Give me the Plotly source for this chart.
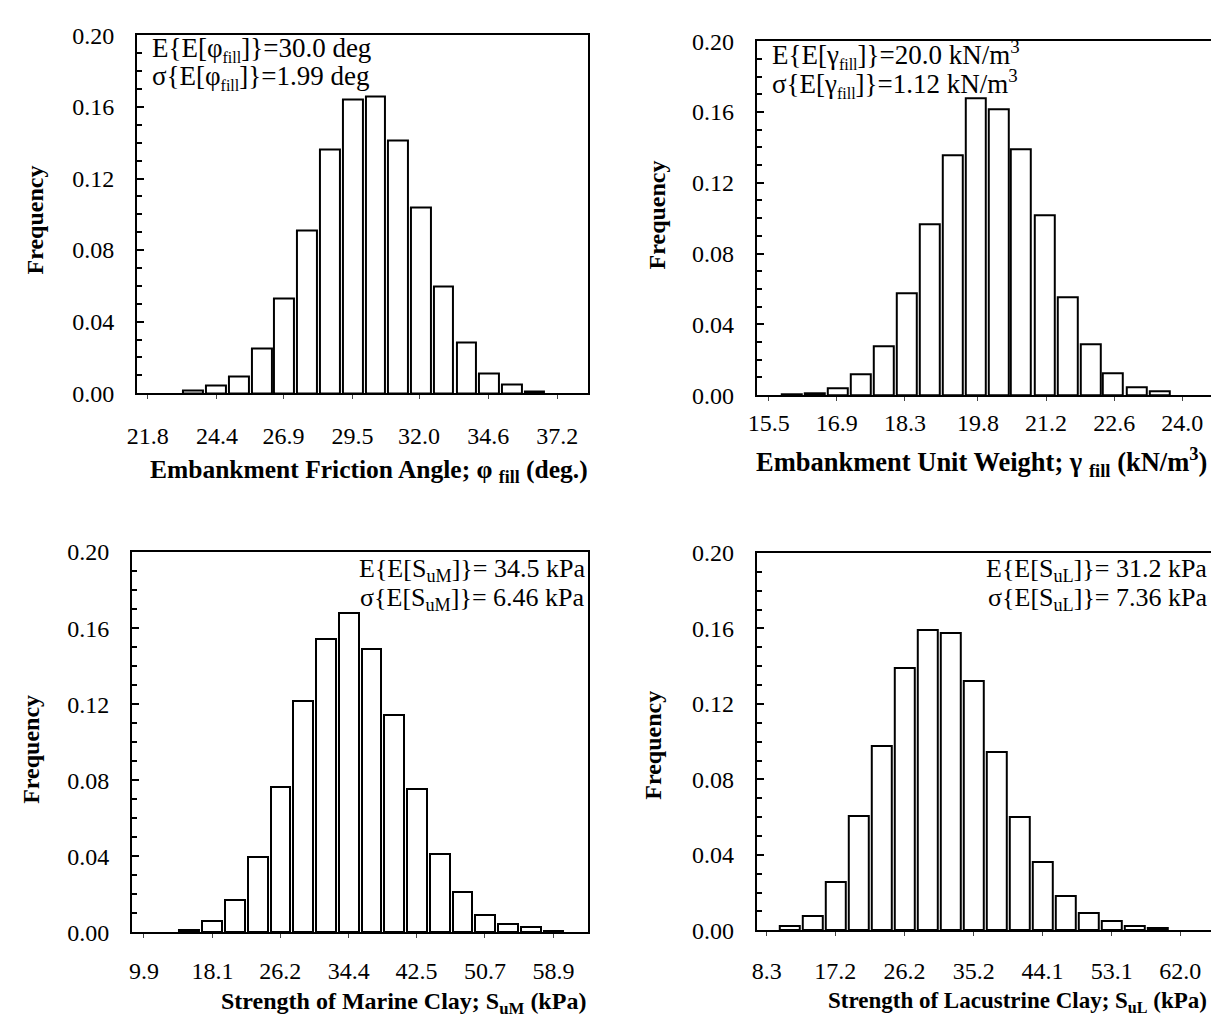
import plotly.graph_objects as go

W, H = 1211, 1032
FONT = "Liberation Serif"

# ---------------- data ----------------
# Panel 1: embankment friction angle (deg)
phi_bin_centers = [23.51, 24.37, 25.22, 26.08, 26.93, 27.79, 28.64, 29.50,
                   30.36, 31.21, 32.07, 32.92, 33.78, 34.63, 35.49, 36.34]
phi_freq = [0.0013, 0.0042, 0.0096, 0.0251, 0.0527, 0.0909, 0.1360, 0.1640,
            0.1660, 0.1415, 0.1040, 0.0595, 0.0285, 0.0113, 0.0051, 0.0009]
phi_bin_width = 0.856
phi_tick_labels = ["21.8", "24.4", "26.9", "29.5", "32.0", "34.6", "37.2"]

# Panel 2: embankment unit weight (kN/m3)
gam_bin_centers = [15.97, 16.44, 16.92, 17.39, 17.86, 18.33, 18.81, 19.28, 19.75,
                   20.22, 20.69, 21.17, 21.64, 22.11, 22.58, 23.06, 23.53]
gam_freq = [0.0003, 0.0013, 0.0040, 0.0118, 0.0277, 0.0573, 0.0965, 0.1355, 0.1680,
            0.1616, 0.1390, 0.1017, 0.0555, 0.0287, 0.0124, 0.0046, 0.0022]
gam_bin_width = 0.472
gam_tick_labels = ["15.5", "16.9", "18.3", "19.8", "21.2", "22.6", "24.0"]

# Panel 3: strength of marine clay (kPa)
sum_bin_centers = [15.34, 18.07, 20.79, 23.51, 26.23, 28.96, 31.68, 34.40, 37.12,
                   39.84, 42.57, 45.29, 48.01, 50.73, 53.46, 56.18, 58.90]
sum_freq = [0.0010, 0.0057, 0.0168, 0.0396, 0.0764, 0.1216, 0.1541, 0.1678, 0.1490,
            0.1144, 0.0753, 0.0411, 0.0211, 0.0088, 0.0042, 0.0027, 0.0008]
sum_bin_width = 2.722
sum_tick_labels = ["9.9", "18.1", "26.2", "34.4", "42.5", "50.7", "58.9"]

# Panel 4: strength of lacustrine clay (kPa)
sul_bin_centers = [11.28, 14.27, 17.25, 20.23, 23.22, 26.20, 29.18, 32.17, 35.15,
                   38.13, 41.12, 44.10, 47.08, 50.07, 53.05, 56.03, 59.02]
sul_freq = [0.0020, 0.0076, 0.0257, 0.0604, 0.0975, 0.1392, 0.1591, 0.1574, 0.1320,
            0.0944, 0.0599, 0.0362, 0.0181, 0.0092, 0.0050, 0.0022, 0.0012]
sul_bin_width = 2.983
sul_tick_labels = ["8.3", "17.2", "26.2", "35.2", "44.1", "53.1", "62.0"]

freq_ticks = [0.00, 0.04, 0.08, 0.12, 0.16, 0.20]

SUBF = "<sub><span style='font-size:16px'>fill</span></sub>"
stats = [
    ["E{E[φ" + SUBF + "]}=30.0 deg", "σ{E[φ" + SUBF + "]}=1.99 deg"],
    ["E{E[γ" + SUBF + "]}=20.0 kN/m<sup>3</sup>", "σ{E[γ" + SUBF + "]}=1.12 kN/m<sup>3</sup>"],
    ["E{E[S<sub>uM</sub>]}= 34.5 kPa", "σ{E[S<sub>uM</sub>]}= 6.46 kPa"],
    ["E{E[S<sub>uL</sub>]}= 31.2 kPa", "σ{E[S<sub>uL</sub>]}= 7.36 kPa"],
]
x_titles = [
    "<b>Embankment Friction Angle; φ <sub>fill</sub> (deg.)</b>",
    "<b>Embankment Unit Weight; γ <sub>fill</sub> (kN/m<sup>3</sup>)</b>",
    "<b>Strength of Marine Clay; S<sub>uM</sub> (kPa)</b>",
    "<b>Strength of Lacustrine Clay; S<sub>uL</sub> (kPa)</b>",
]

# ---------------- layout helpers ----------------
def fx(px):
    return px / W

def fy(py):
    return 1 - py / H

# pixel boxes: left, top, right, bottom ; x range ; x tick label standoff
panels = [
    dict(box=(128, 23, 583, 390), xr=(21.39, 38.36), std=16, right=True),
    dict(box=(753, 29, 1211, 392), xr=(15.255, 24.59), std=1, right=False),
    dict(box=(123, 553, 583, 943), xr=(8.476, 63.05), std=12, right=True),
    dict(box=(753, 554, 1211, 941), xr=(7.012, 65.99), std=14, right=False),
]
series = [
    (phi_bin_centers, phi_freq, phi_bin_width, phi_tick_labels),
    (gam_bin_centers, gam_freq, gam_bin_width, gam_tick_labels),
    (sum_bin_centers, sum_freq, sum_bin_width, sum_tick_labels),
    (sul_bin_centers, sul_freq, sul_bin_width, sul_tick_labels),
]

fig = go.Figure()
layout = dict(
    width=W, height=H, margin=dict(l=0, r=0, t=0, b=0),
    paper_bgcolor="white", plot_bgcolor="white", showlegend=False,
    font=dict(family=FONT, color="black", size=24),
    bargap=0,
)

for i, (p, s) in enumerate(zip(panels, series)):
    n = "" if i == 0 else str(i + 1)
    centers, freq, bw, tlabels = s
    fig.add_trace(go.Bar(
        x=centers, y=freq, width=[bw * 0.87] * len(centers),
        marker=dict(color="white", line=dict(color="black", width=2)),
        xaxis="x" + n, yaxis="y" + n, hoverinfo="skip",
    ))
    l, t, r, b = p["box"]
    layout["xaxis" + n] = dict(
        domain=[fx(l), fx(r)], range=list(p["xr"]), anchor="y" + n,
        showline=True, linecolor="black", linewidth=2, mirror=True,
        showgrid=False, zeroline=False, fixedrange=True,
        tickmode="array", tickvals=[float(v) for v in tlabels], ticktext=tlabels,
        ticks="outside", ticklen=4, tickwidth=1, tickcolor="#444",
        ticklabelstandoff=p["std"], tickfont=dict(size=24, family=FONT),
    )
    layout["yaxis" + n] = dict(
        domain=[fy(b), fy(t)], range=[0, 0.2], anchor="x" + n,
        showline=True, linecolor="black", linewidth=2, mirror=p["right"],
        showgrid=False, zeroline=False, fixedrange=True,
        tickmode="array", tickvals=freq_ticks,
        ticktext=["%.2f" % v for v in freq_ticks],
        ticks="inside", ticklen=7, tickwidth=1.5, tickcolor="black",
        minor=dict(dtick=0.01, tick0=0, ticks="inside", ticklen=5, tickwidth=1.5, tickcolor="black"),
        ticklabelstandoff=16, tickfont=dict(size=24, family=FONT),
    )

ann = []
# stat text positions (pixels): (x, y1, y2, anchor, font size)
stat_pos = [(141, 37, 66, "left", 27), (766, 43, 72, "left", 27),
            (582, 571, 601, "right", 26), (1209, 571, 601, "right", 26)]
for (x, y1, y2, anc, fs), (l1, l2) in zip(stat_pos, stats):
    for yy, txt in ((y1, l1), (y2, l2)):
        ann.append(dict(x=fx(x), y=fy(yy), xref="paper", yref="paper", text=txt,
                        showarrow=False, xanchor=anc, yanchor="middle",
                        font=dict(size=fs, family=FONT)))

# x titles: (x, y, anchor, font size)
xt_pos = [(362, 470, "center", 25.5), (1209, 461, "right", 26.5),
          (397, 1016, "center", 24), (1209, 1015, "right", 23)]
for (x, y, anc, fs), txt in zip(xt_pos, x_titles):
    ann.append(dict(x=fx(x), y=fy(y), xref="paper", yref="paper", text=txt,
                    showarrow=False, xanchor=anc, yanchor="middle",
                    font=dict(size=fs, family=FONT)))

yt_pos = [(25, 212), (652, 207), (21, 755), (648, 751)]
for (x, y) in yt_pos:
    ann.append(dict(x=fx(x), y=fy(y), xref="paper", yref="paper", text="<b>Frequency</b>",
                    showarrow=False, xanchor="center", yanchor="middle", textangle=-90,
                    font=dict(size=24, family=FONT)))

layout["annotations"] = ann
fig.update_layout(**layout)
fig.write_html("out.html", config={"displayModeBar": False},
               post_script="document.body.style.margin='0px';")
